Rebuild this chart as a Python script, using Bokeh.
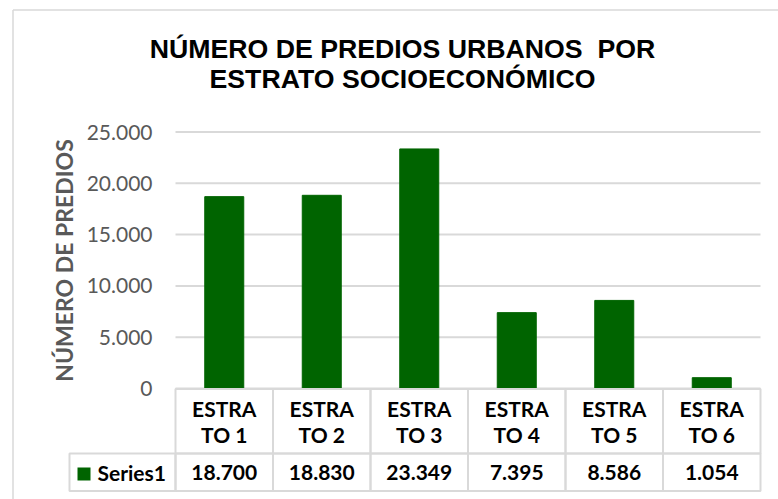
import math
from bokeh.plotting import figure
from bokeh.models import Range1d
from bokeh.core.properties import value
from bokeh.embed import file_html
from bokeh.resources import INLINE

# ---------------- data ----------------
title_lines = ["NÚMERO DE PREDIOS URBANOS  POR", "ESTRATO SOCIOECONÓMICO"]
categories = ["ESTRATO 1", "ESTRATO 2", "ESTRATO 3", "ESTRATO 4", "ESTRATO 5", "ESTRATO 6"]
values = [18700, 18830, 23349, 7395, 8586, 1054]
series_name = "Series1"
y_ticks = [0, 5000, 10000, 15000, 20000, 25000]
y_tick_labels = ["0", "5.000", "10.000", "15.000", "20.000", "25.000"]
y_axis_title = "NÚMERO DE PREDIOS"

# ---------------- layout constants (page pixels) ----------------
W, H = 778, 499
PL, PR = 175.0, 760.0          # plot area left / right
Y0, YTOP = 388.0, 131.5        # page y of value 0 and of the top tick
GREEN = "#006400"
GRID = "#d9d9d9"
TEXT_GRAY = "#595959"

n = len(categories)
colw = (PR - PL) / n
ppu = (Y0 - YTOP) / y_ticks[-1]

p = figure(width=W, height=H, output_backend="svg", toolbar_location=None,
           x_range=Range1d(-PL / colw, (W - PL) / colw),
           y_range=Range1d(-(H - Y0) / ppu, Y0 / ppu),
           x_axis_location=None, y_axis_location=None,
           min_border=0)
p.extra_x_ranges = {"px": Range1d(0, W)}
p.extra_y_ranges = {"px": Range1d(H, 0)}
p.outline_line_color = None
p.background_fill_color = "white"
p.border_fill_color = "white"
p.grid.visible = False

# chart area border
p.segment(x0=[12.5, 12.5], y0=[9.5, 9.5], x1=[12.5, W], y1=[H, 9.5],
          x_range_name="px", y_range_name="px", line_color=GRID, line_width=1.5)

# gridlines (value axis)
p.segment(x0=[0] * len(y_ticks), x1=[n] * len(y_ticks), y0=y_ticks, y1=y_ticks,
          line_color=GRID, line_width=2)

# value-axis tick labels
p.text(x=[152] * len(y_ticks), y=y_ticks, text=y_tick_labels, x_range_name="px",
       text_align="right", text_baseline="middle", text_font=value("Lato"),
       text_font_size="21px", text_color=TEXT_GRAY)

# value-axis title
p.text(x=[63], y=[260], text=[y_axis_title], x_range_name="px", y_range_name="px",
       angle=math.pi / 2, text_align="center", text_baseline="middle",
       text_font=value("Lato"), text_font_style="bold", text_font_size="23px",
       text_color=TEXT_GRAY)

# bars
xs = [i + 0.5 for i in range(n)]
p.vbar(x=xs, top=values, bottom=0, width=0.4, fill_color=GREEN, line_color=GREEN)

# data table
HT, HB, DB = 388.5, 453.0, 490.5
lefts = [float(i) for i in range(n)]
rights = [i + 1.0 for i in range(n)]
p.quad(left=lefts, right=rights, top=[HT] * n, bottom=[HB] * n, y_range_name="px",
       fill_color=None, line_color=GRID, line_width=2)
p.quad(left=lefts, right=rights, top=[HB] * n, bottom=[DB] * n, y_range_name="px",
       fill_color=None, line_color=GRID, line_width=2)
p.quad(left=[69], right=[PL], top=[HB], bottom=[DB], x_range_name="px", y_range_name="px",
       fill_color=None, line_color=GRID, line_width=2)

line1 = [c[:5] for c in categories]
line2 = [c[5:] for c in categories]
val_txt = [f"{v:,}".replace(",", ".") for v in values]
for txt, ty in ((line1, 408), (line2, 434), (val_txt, 472)):
    p.text(x=xs, y=[ty] * n, text=txt, y_range_name="px",
           text_align="center", text_baseline="middle", text_font=value("Lato"),
           text_font_style="bold", text_font_size="21px", text_color="black")

# legend key + series name
p.quad(left=[77], right=[90], top=[467], bottom=[480], x_range_name="px", y_range_name="px",
       fill_color=GREEN, line_color=None)
p.text(x=[97], y=[472], text=[series_name], x_range_name="px", y_range_name="px",
       text_align="left", text_baseline="middle", text_font=value("Lato"),
       text_font_style="bold", text_font_size="21px", text_color="black")

# title (keep the double space visible in SVG)
shown_title = [t.replace("  ", " \u00a0") for t in title_lines]
p.text(x=[402, 402], y=[48, 78], text=shown_title, x_range_name="px", y_range_name="px",
       text_align="center", text_baseline="middle", text_font=value("Liberation Sans"),
       text_font_style="bold", text_font_size="26.7px", text_color="black")

open("out.html", "w").write(file_html(p, INLINE))
